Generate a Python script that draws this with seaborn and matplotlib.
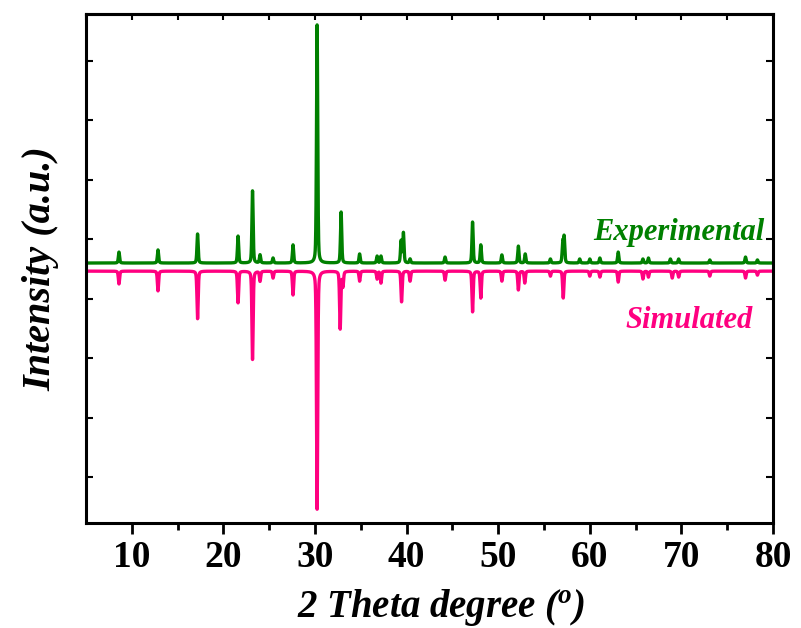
import numpy as np
import pandas as pd
import seaborn as sns
import matplotlib
matplotlib.use("Agg")
import matplotlib.pyplot as plt

# ---- data: peak lists (2theta, relative intensity %) ----
exp_pos = [8.6, 12.86, 17.18, 21.6, 23.18, 24.0, 25.42, 27.6, 30.23, 32.85,
           34.87, 36.78, 37.2, 39.4, 39.65, 40.38, 44.2, 47.2, 48.1, 50.4,
           52.2, 52.95, 55.7, 57.05, 57.2, 58.9, 60.0, 61.1, 63.1, 65.8,
           66.4, 68.8, 69.7, 73.1, 77.0, 78.3]
exp_int = [4.6, 5.5, 12.2, 11.3, 30.3, 3.4, 2.1, 7.6, 100, 21.4,
           3.8, 2.9, 2.9, 9.2, 12.6, 1.7, 2.5, 17.2, 7.6, 3.4,
           7.1, 3.8, 1.7, 8.4, 10.5, 1.7, 1.7, 2.1, 4.6, 1.7,
           2.1, 1.7, 1.7, 1.3, 2.5, 1.3]

sim_pos = [8.6, 12.86, 17.18, 21.6, 23.18, 24.0, 25.42, 27.6, 30.23, 32.75,
           33.05, 34.87, 36.78, 37.2, 39.45, 40.38, 44.2, 47.2, 48.1, 50.4,
           52.2, 52.9, 55.7, 57.1, 60.0, 61.1, 63.1, 65.8, 66.4, 69.0,
           69.7, 73.1, 77.0, 78.3]
sim_int = [5.4, 8.3, 20, 13.3, 37.1, 4.2, 2.9, 10, 100, 24.2,
           6.3, 4.2, 3.3, 5, 12.9, 4.2, 3.8, 17.1, 11.3, 4.2,
           7.9, 5, 2.1, 11.3, 2.1, 2.5, 4.6, 3.3, 2.5, 2.9,
           2.5, 2.1, 2.9, 1.7]

sim_offset = -3.4
x_ticks = [10, 20, 30, 40, 50, 60, 70, 80]

def profile(x, pos, inten, w=0.07):
    y = np.zeros_like(x)
    for p, h in zip(pos, inten):
        g = np.exp(-0.5 * ((x - p) / w) ** 2)
        l = 1.0 / (1.0 + ((x - p) / w) ** 2)
        y += h * (0.55 * g + 0.45 * l)
    return y

tt = np.round(np.arange(5.0, 80.0001, 0.01), 2)
exp_y = profile(tt, exp_pos, exp_int)
sim_y = sim_offset - profile(tt, sim_pos, sim_int)
df = pd.DataFrame({"tt": tt, "exp": exp_y, "sim": sim_y})

sns.set_style("ticks")
plt.rcParams["font.family"] = ["Liberation Serif", "DejaVu Serif"]
plt.rcParams["mathtext.fontset"] = "custom"
plt.rcParams["mathtext.it"] = "Liberation Serif:italic:bold"
plt.rcParams["mathtext.rm"] = "Liberation Serif:bold"
plt.rcParams["text.color"] = "black"
plt.rcParams["axes.labelcolor"] = "black"
plt.rcParams["xtick.color"] = "black"
plt.rcParams["ytick.color"] = "black"

fig = plt.figure(figsize=(8.01, 6.28), dpi=100)
ax = fig.add_axes([86/801, 1-523/628, 687/801, 509/628])

green = "#008000"
pink = "#FF0080"
sns.lineplot(data=df, x="tt", y="exp", ax=ax, color=green, lw=2.4)
sns.lineplot(data=df, x="tt", y="sim", ax=ax, color=pink, lw=2.4)

ax.set_xlim(5, 80)
ax.set_ylim(-109.2, 104.6)
ax.set_xticks(x_ticks)
ax.set_xticks(np.arange(15, 80, 10), minor=True)
ax.set_yticks(np.arange(-90, 100, 25))
ax.set_yticklabels([])

for s in ax.spines.values():
    s.set_linewidth(2.2)
    s.set_color("black")

ax.tick_params(axis="x", which="major", direction="out", length=8, width=2,
               labelsize=27, pad=4, colors="black")
ax.tick_params(axis="x", which="minor", direction="out", length=5, width=2)
ax.tick_params(axis="y", which="major", direction="in", length=5, width=1.5,
               left=True, right=True)
for lab in ax.get_xticklabels():
    lab.set_fontweight("bold")
    lab.set_color("black")

top = ax.secondary_xaxis("top")
top.set_xticks(np.arange(5, 81, 5))
top.tick_params(direction="in", length=4, width=1.5, labeltop=False)
top.spines["top"].set_linewidth(2.2)

ax.set_xlabel(r"2 Theta degree ($^{o}$)", fontsize=28, fontweight="bold",
              fontstyle="italic", color="black")
ax.xaxis.set_label_coords(0.517, -0.125)
ax.set_ylabel("Intensity (a.u.)", fontsize=29, fontweight="bold",
              fontstyle="italic", labelpad=16, color="black")

ax.text(0.988, 0.556, "Experimental", transform=ax.transAxes, ha="right",
        va="baseline", color=green, fontsize=22, fontweight="bold",
        fontstyle="italic")
ax.text(0.971, 0.383, "Simulated", transform=ax.transAxes, ha="right",
        va="baseline", color=pink, fontsize=22, fontweight="bold",
        fontstyle="italic")

fig.savefig("out.png", dpi=100)
